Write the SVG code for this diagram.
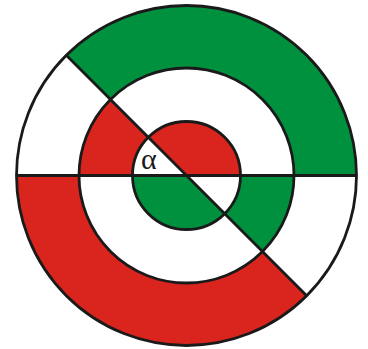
<svg xmlns="http://www.w3.org/2000/svg" width="368" height="349" viewBox="0 0 368 349">
<style>
.g{fill:#00913f}
.r{fill:#d9251d}
.ln{fill:none;stroke:#1a1a1a;stroke-width:2.8}
.lbl{font-family:"Liberation Serif",serif;font-size:30px;fill:#1a1a1a}
</style>
<rect width="368" height="349" fill="#ffffff"/>
<g id="fills">
<path class="g" d="M66.29,55.29 A170,170 0 0 1 356.5,175.5 L294,175.5 A107.5,107.5 0 0 0 110.49,99.49 Z"/>
<path class="r" d="M306.71,295.71 A170,170 0 0 1 16.5,175.5 L79,175.5 A107.5,107.5 0 0 0 262.51,251.51 Z"/>
<path class="r" d="M79,175.5 A107.5,107.5 0 0 1 110.49,99.49 L148.32,137.32 A54,54 0 0 0 132.5,175.5 Z"/>
<path class="g" d="M294,175.5 A107.5,107.5 0 0 1 262.51,251.51 L224.68,213.68 A54,54 0 0 0 240.5,175.5 Z"/>
<path class="r" d="M186.5,175.5 L148.32,137.32 A54,54 0 0 1 240.5,175.5 Z"/>
<path class="g" d="M186.5,175.5 L224.68,213.68 A54,54 0 0 1 132.5,175.5 Z"/>
</g>
<g id="lines">
<circle class="ln" cx="186.5" cy="175.5" r="170"/>
<circle class="ln" cx="186.5" cy="175.5" r="107.5"/>
<circle class="ln" cx="186.5" cy="175.5" r="54"/>
<line class="ln" x1="16.5" y1="175.5" x2="356.5" y2="175.5"/>
<line class="ln" x1="66.29" y1="55.29" x2="306.71" y2="295.71"/>
</g>
<text class="lbl" x="141" y="168.5">α</text>
</svg>
